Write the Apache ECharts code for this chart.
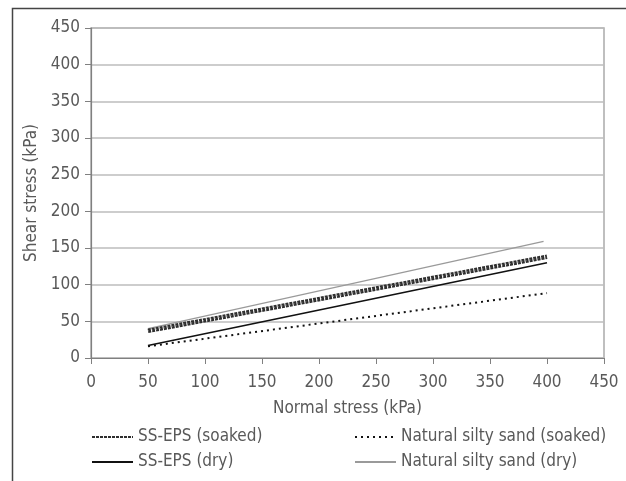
<!DOCTYPE html>
<html>
<head>
<meta charset="utf-8">
<script src="https://cdn.jsdelivr.net/npm/echarts@6/dist/echarts.min.js"></script>
<style>
html,body{margin:0;padding:0;background:#fff;}
#c{width:626px;height:481px;}
</style>
</head>
<body>
<div id="c"></div>
<script>
const seriesNames = ['SS-EPS (soaked)', 'SS-EPS (dry)', 'Natural silty sand (soaked)', 'Natural silty sand (dry)'];
const ssEpsSoaked = [[50, 37], [400, 138]];
const ssEpsDry = [[50, 17], [400, 130]];
const naturalSoaked = [[50, 16], [400, 88.5]];
const naturalDry = [[50, 40], [397, 159]];
const xTicks = [0, 50, 100, 150, 200, 250, 300, 350, 400, 450];
const yTicks = [0, 50, 100, 150, 200, 250, 300, 350, 400, 450];

const FONT = '"DejaVu Sans Condensed", "Liberation Sans Narrow", Roboto, sans-serif';
const TXT = '#595959';
const FS = 17;

const chart = echarts.init(document.getElementById('c'), null, {renderer: 'canvas'});
chart.setOption({
  animation: false,
  backgroundColor: '#fff',
  graphic: [{
    type: 'rect', silent: true,
    shape: {x: 12.5, y: 8.5, width: 700, height: 600},
    style: {fill: 'none', stroke: '#444', lineWidth: 1.5}
  }],
  grid: {left: 91, right: 22, top: 28, bottom: 123, show: true, borderColor: '#aaa', borderWidth: 1.5, containLabel: false},
  xAxis: {
    type: 'value', min: xTicks[0], max: xTicks[xTicks.length - 1], interval: 50,
    name: 'Normal stress (kPa)', nameLocation: 'middle', nameGap: 42,
    nameTextStyle: {fontFamily: FONT, fontSize: FS, color: TXT},
    axisLine: {show: true, onZero: false, lineStyle: {color: '#808080', width: 1.2}},
    axisTick: {show: true, length: 6, lineStyle: {color: '#808080'}},
    axisLabel: {fontFamily: FONT, fontSize: FS, color: TXT, margin: 16},
    splitLine: {show: false}
  },
  yAxis: {
    type: 'value', min: yTicks[0], max: yTicks[yTicks.length - 1], interval: 50,
    name: 'Shear stress (kPa)', nameLocation: 'middle', nameGap: 44, nameRotate: 90,
    nameTextStyle: {fontFamily: FONT, fontSize: FS, color: TXT},
    axisLine: {show: true, lineStyle: {color: '#808080', width: 1.2}},
    axisTick: {show: true, length: 6, lineStyle: {color: '#808080'}},
    axisLabel: {fontFamily: FONT, fontSize: FS, color: TXT, margin: 11},
    splitLine: {show: true, lineStyle: {color: '#bdbdbd', width: 1.5}}
  },
  legend: [{
    data: [seriesNames[0], seriesNames[1]],
    orient: 'vertical', left: 91, top: 427, padding: 0, itemWidth: 41, itemHeight: 14, itemGap: 5,
    itemStyle: {opacity: 0},
    textStyle: {fontFamily: FONT, fontSize: FS, color: TXT, lineHeight: 20}
  }, {
    data: [seriesNames[2], seriesNames[3]],
    orient: 'vertical', left: 354, top: 427, padding: 0, itemWidth: 41, itemHeight: 14, itemGap: 5,
    itemStyle: {opacity: 0},
    textStyle: {fontFamily: FONT, fontSize: FS, color: TXT, lineHeight: 20}
  }],
  series: [
    {name: seriesNames[3], type: 'line', data: naturalDry, symbol: 'none', lineStyle: {color: '#9a9a9a', width: 1.3}, itemStyle: {color: '#9a9a9a'}},
    {name: seriesNames[2], type: 'line', data: naturalSoaked, symbol: 'none', lineStyle: {color: '#111', width: 2, type: [2, 4]}, itemStyle: {color: '#111'}},
    {name: seriesNames[1], type: 'line', data: ssEpsDry, symbol: 'none', lineStyle: {color: '#111', width: 1.6}, itemStyle: {color: '#111'}},
    {name: seriesNames[0], type: 'line', data: ssEpsSoaked, symbol: 'none', lineStyle: {color: '#2e2e2e', width: 4.5, type: [3, 1]}, itemStyle: {color: '#2e2e2e'}},
    {name: 'soaked-hatch', type: 'line', data: ssEpsSoaked, symbol: 'none', lineStyle: {color: '#7a7a7a', width: 1.1, type: [1, 3]}, silent: true}
  ]
});
</script>
</body>
</html>
